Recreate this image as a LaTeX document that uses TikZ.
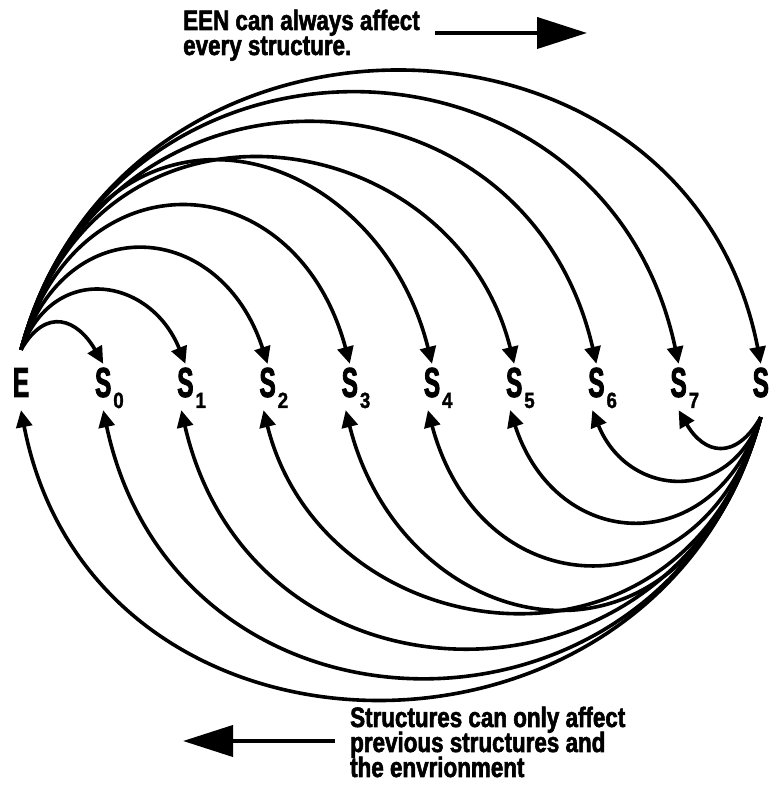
\documentclass[tikz,border=0pt]{standalone}
\usepackage{fontspec}
\usetikzlibrary{arrows.meta,positioning}
\newfontfamily\labelface{Liberation Sans}[UprightFont={* Bold}, FakeStretch=0.58, FakeBold=2]
\newfontfamily\subface{Liberation Sans}[UprightFont={* Bold}, FakeStretch=0.85, FakeBold=1.5]
\newfontfamily\noteface{Liberation Sans}[UprightFont={* Bold}, FakeStretch=0.8, FakeBold=2]
\newcommand{\stlabel}[1]{S\rlap{\kern2pt\raisebox{-11pt}{\subface\fontsize{22pt}{22pt}\selectfont #1}}}
\newcommand{\tightlines}{\lineskiplimit=-30pt\relax}

\begin{document}
\begin{tikzpicture}[
    x=1pt, y=1pt,
    node distance=61.8pt,
    state/.style={
        inner xsep=0pt,
        inner ysep=3pt,
        minimum width=20pt,
        text height=30pt,
        text depth=10pt,
        font=\labelface\fontsize{42pt}{44pt}\selectfont
    },
    note/.style={
        inner sep=0pt,
        align=left,
        font=\noteface\fontsize{28pt}{25pt}\selectfont\tightlines
    },
    arc/.style={-{Triangle[length=17pt,width=16pt]}, line width=3.6pt},
    bigarrow/.style={-{Triangle[length=50pt,width=31pt]}, line width=4pt}
]
    \useasboundingbox (0,0) rectangle (769,786);

    % environment and structures
    \node[state] (E) at (21,399) {E};
    \node[state, right=of E] (S0) {\stlabel{0}};
    \node[state, right=of S0] (S1) {\stlabel{1}};
    \node[state, right=of S1] (S2) {\stlabel{2}};
    \node[state, right=of S2] (S3) {\stlabel{3}};
    \node[state, right=of S3] (S4) {\stlabel{4}};
    \node[state, right=of S4] (S5) {\stlabel{5}};
    \node[state, right=of S5] (S6) {\stlabel{6}};
    \node[state, right=of S6] (S7) {\stlabel{7}};
    \node[state, right=of S7] (S8) {\stlabel{8}};

    \coordinate (Etop) at ([yshift=14pt]E.north);
    \coordinate (S8bot) at ([yshift=-7pt]S8.south);

    % E affects every structure
    \draw[arc] (Etop) .. controls +(60:51) and +(120:51) .. (S0.north);
    \draw[arc] (Etop) .. controls +(70:94) and +(112:94) .. (S1.north);
    \draw[arc] (Etop) .. controls +(72:151) and +(108:151) .. (S2.north);
    \draw[arc] (Etop) .. controls +(74:208) and +(105:208) .. (S3.north);
    \draw[arc] (Etop) .. controls +(75:300) and +(104:235) .. (S4.north);
    \draw[arc] (Etop) .. controls +(75:295) and +(104:250) .. (S5.north);
    \draw[arc] (Etop) .. controls +(75:321) and +(103:321) .. (S6.north);
    \draw[arc] (Etop) .. controls +(75:361) and +(102:361) .. (S7.north);
    \draw[arc] (Etop) .. controls +(75:390) and +(101:390) .. (S8.north);

    % structures affect earlier ones
    \draw[arc] (S8bot) .. controls +(-120:51) and +(-60:51) .. (S7.south);
    \draw[arc] (S8bot) .. controls +(-110:94) and +(-68:94) .. (S6.-100);
    \draw[arc] (S8bot) .. controls +(-108:151) and +(-72:151) .. (S5.-100);
    \draw[arc] (S8bot) .. controls +(-106:208) and +(-75:208) .. (S4.-100);
    \draw[arc] (S8bot) .. controls +(-105:300) and +(-76:235) .. (S3.-100);
    \draw[arc] (S8bot) .. controls +(-105:295) and +(-76:250) .. (S2.-100);
    \draw[arc] (S8bot) .. controls +(-105:321) and +(-77:321) .. (S1.-100);
    \draw[arc] (S8bot) .. controls +(-105:361) and +(-78:361) .. (S0.south);
    \draw[arc] (S8bot) .. controls +(-105:390) and +(-79:390) .. (E.south);

    % notes
    \node[note, anchor=base west] (topnote) at (183,731)
        {EEN can always affect\\every structure.};
    \node[note, anchor=base west] (bottomnote) at (350,9)
        {Structures can only affect\\previous structures and\\the envrionment};

    \coordinate (toptail) at (435,753);
    \coordinate (toptip) at (587,753);
    \coordinate (bottomtail) at (335,45);
    \coordinate (bottomtip) at (183,45);
    \draw[bigarrow] (toptail) -- (toptip);
    \draw[bigarrow] (bottomtail) -- (bottomtip);
\end{tikzpicture}
\end{document}
